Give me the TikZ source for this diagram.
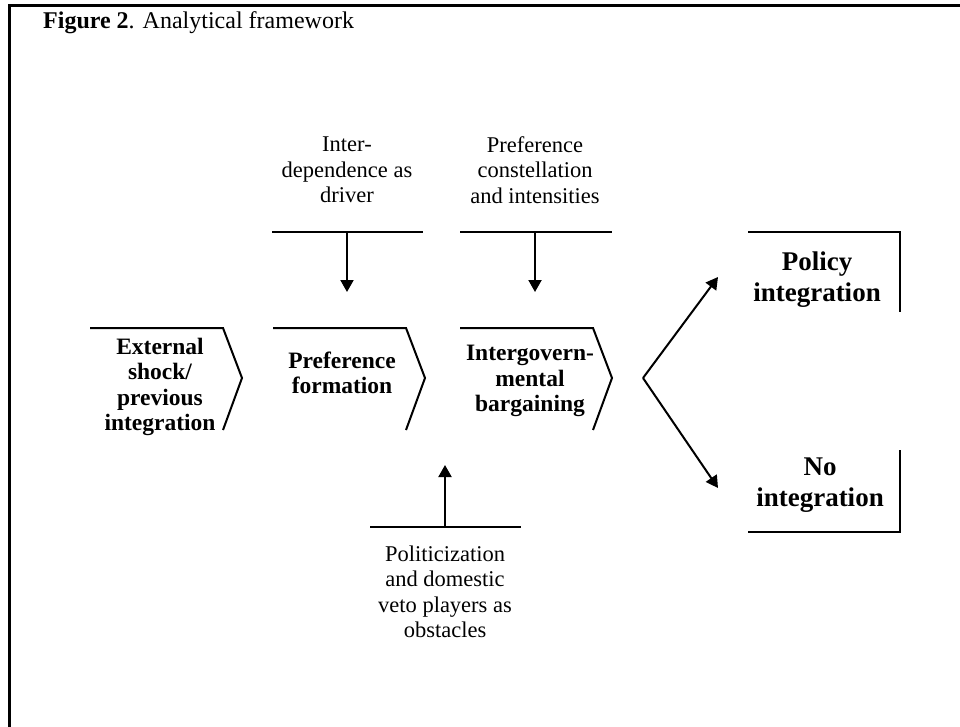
\documentclass[tikz,border=0pt]{standalone}
\usepackage{fontspec}
\setmainfont{Liberation Serif}
\usetikzlibrary{arrows.meta}

\begin{document}
\begin{tikzpicture}[
        x=1pt, y=-1pt,
        chev/.style={draw, line width=2pt, line join=miter},
        bar/.style={line width=2pt},
        inarrow/.style={-{Triangle[length=12pt,width=13pt]}, line width=2pt},
        steptext/.style={align=center, inner sep=0pt, font=\fontsize{23.5}{25.5}\selectfont\bfseries},
        outtext/.style={align=center, inner sep=0pt, font=\fontsize{27}{31}\selectfont\bfseries},
        factor/.style={align=center, inner sep=0pt, font=\fontsize{22.5}{25.5}\selectfont}
    ]
        \useasboundingbox (0,0) rectangle (960,727);

        % Frame and title
        \draw[line width=3pt] (9.5,727) -- (9.5,6) -- (960,6);
        \node[anchor=base west, inner sep=0pt, font=\fontsize{24}{26}\selectfont] (title) at (43,29) {\textbf{Figure 2}. Analytical framework};

        % Stage chevrons
        \foreach \x in {90,273,460} {
            \draw[chev] (\x,328) -- ++(133,0) -- ++(19,50) -- ++(-19,52);
        }
        \node[steptext] (ext) at (160,387) {External\\shock/\\previous\\integration};
        \node[steptext] (pref) at (342,373) {Preference\\formation};
        \node[steptext] (barg) at (530,381) {Intergovern-\\mental\\bargaining};

        % Factors
        \node[factor] (dep) at (347,170) {Inter-\\dependence as\\driver};
        \node[factor] (const) at (535,170) {Preference\\constellation\\and intensities};
        \node[factor] (polit) at (445,592) {Politicization\\and domestic\\veto players as\\obstacles};

        \coordinate (depbar) at (347,232);
        \coordinate (deptip) at (347,292);
        \coordinate (constbar) at (535,232);
        \coordinate (consttip) at (535,292);
        \coordinate (politbar) at (445,527);
        \coordinate (polittip) at (445,465);

        \draw[bar] (272,232) -- (423,232);
        \draw[bar] (460,232) -- (612,232);
        \draw[bar] (370,527) -- (521,527);
        \draw[inarrow] (depbar) -- (deptip);
        \draw[inarrow] (constbar) -- (consttip);
        \draw[inarrow] (politbar) -- (polittip);

        % Outcomes
        \coordinate (fork) at (643,378);
        \coordinate (uptip) at (718,277);
        \coordinate (downtip) at (718,488);
        \draw[inarrow] (fork) -- (uptip);
        \draw[inarrow] (fork) -- (downtip);

        \draw[bar] (748,232) -- (900,232) -- (900,312);
        \draw[bar] (900,450) -- (900,532) -- (748,532);
        \node[outtext] (policy) at (817,280) {Policy\\integration};
        \node[outtext] (noint) at (820,485) {No\\integration};
    \end{tikzpicture}
\end{document}
